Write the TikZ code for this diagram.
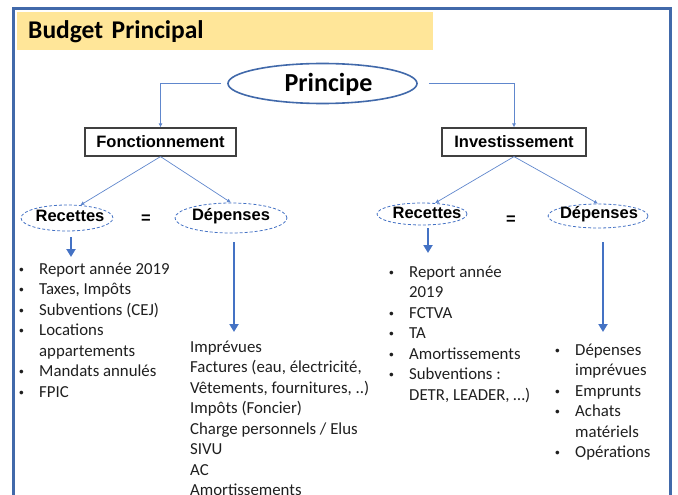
\documentclass[tikz,border=0pt]{standalone}
\usepackage{fontspec}
\setmainfont{Carlito}
\newfontfamily\arialf{Liberation Sans}
\usetikzlibrary{arrows.meta,shapes.geometric}

\definecolor{frameblue}{RGB}{65,105,170}
\definecolor{lineblue}{RGB}{68,114,196}
\definecolor{titleyellow}{RGB}{255,230,153}

\newcommand\bul{{\arialf\fontsize{13.5}{13.5}\selectfont\textbullet}}

\tikzset{
  boxlabel/.style={draw=black!75, line width=1.2pt, inner sep=0pt, minimum height=28pt,
    font=\arialf\bfseries\fontsize{16.5}{18}\selectfont},
  dashell/.style={ellipse, draw=lineblue, densely dashed, line width=0.8pt, inner sep=0pt},
  elltext/.style={inner sep=0pt, font=\arialf\bfseries\fontsize{16.5}{18}\selectfont},
  thinarrow/.style={draw=lineblue!85, line width=0.7pt, -{Latex[length=4pt,width=4pt]}},
  thickarrow/.style={draw=lineblue, line width=2.4pt, -{Triangle[length=8pt,width=9pt]}},
  itemlist/.style={anchor=base west, inner sep=0pt, text=black!88,
    font=\fontsize{16.8}{20.5}\selectfont}
}

\begin{document}
\begin{tikzpicture}[x=1pt,y=-1pt]
			%%%%% START %%%%%
			\useasboundingbox (0,0) rectangle (678,495);
			\clip (0,0) rectangle (678,495);
			
			\draw[frameblue, line width=3pt] (13.5,530) -- (13.5,9) -- (670.5,9) -- (670.5,530);
			
			\node[anchor=base west, fill=titleyellow, text height=27pt, text depth=11pt,
			  inner ysep=0pt, inner xsep=11pt, text width=394pt,
			  font=\bfseries\fontsize{25.5}{28}\selectfont] (title) at (17,39) {Budget Principal};
			
			% principe
			\node[ellipse, draw=frameblue, line width=1.6pt, minimum width=189pt, minimum height=40pt] (pr) at (322.5,83.5) {};
			\node[anchor=base, inner sep=0pt, font=\bfseries\fontsize{26}{30}\selectfont] (prt) at (328.5,92) {Principe};
			
			\node[boxlabel, minimum width=151pt] (fonc) at (160.5,142) {Fonctionnement};
			\node[boxlabel, minimum width=144pt] (inv) at (514,142) {Investissement};
			
			\draw[thinarrow, shorten <=6pt] (pr.west) -| (fonc.north);
			\draw[thinarrow, shorten <=11pt] (pr.east) -| (inv.north);
			
			% fonctionnement
			\node[dashell, minimum width=92pt, minimum height=26pt] (rec1) at (67,218) {};
			\node[elltext] (rec1t) at (70,216) {Recettes};
			\node[dashell, minimum width=112pt, minimum height=30pt] (dep1) at (231,218) {};
			\node[elltext] (dep1t) at (231,216) {Dépenses};
			\node[elltext] (eq1) at (146,219) {=};
			
			\draw[thinarrow] (fonc.south) -- (rec1.44);
			\draw[thinarrow] (fonc.south) -- (dep1.north);
			
			\coordinate (rec1end) at (71,257);
			\coordinate (dep1end) at (234,332);
			\draw[thickarrow, shorten <=6pt] (rec1.south -| rec1end) -- (rec1end);
			\draw[thickarrow, shorten <=9pt] (dep1.south -| dep1end) -- (dep1end);
			
			\node[itemlist] (recl) at (19,274) {\begin{tabular}[t]{@{}p{20pt}@{}l@{}}
			\bul & Report année 2019\\
			\bul & Taxes, Impôts\\
			\bul & Subventions (CEJ)\\
			\bul & Locations\\
			 & appartements\\
			\bul & Mandats annulés\\
			\bul & FPIC
			\end{tabular}};
			
			\node[itemlist] (depl) at (190,352) {\begin{tabular}[t]{@{}l@{}}
			Imprévues\\
			Factures (eau, électricité,\\
			Vêtements, fournitures, ..)\\
			Impôts (Foncier)\\
			Charge personnels / Elus\\
			SIVU\\
			AC\\
			Amortissements
			\end{tabular}};
			
			% investissement
			\node[dashell, minimum width=90pt, minimum height=22pt] (rec2) at (422,214) {};
			\node[elltext] (rec2t) at (427,213) {Recettes};
			\node[dashell, minimum width=100pt, minimum height=24pt] (dep2) at (598,216) {};
			\node[elltext] (dep2t) at (599,214) {Dépenses};
			\node[elltext] (eq2) at (511,220) {=};
			
			\draw[thinarrow] (inv.south) -- (rec2.40);
			\draw[thinarrow] (inv.south) -- (dep2.north);
			
			\coordinate (rec2end) at (428,253);
			\coordinate (dep2end) at (603,332);
			\draw[thickarrow, shorten <=3pt] (rec2.south -| rec2end) -- (rec2end);
			\draw[thickarrow, shorten <=14pt] (dep2.south -| dep2end) -- (dep2end);
			
			\node[itemlist] (recr) at (389,277) {\begin{tabular}[t]{@{}p{20pt}@{}l@{}}
			\bul & Report année\\
			 & 2019\\
			\bul & FCTVA\\
			\bul & TA\\
			\bul & Amortissements\\
			\bul & Subventions :\\
			 & DETR, LEADER, …)
			\end{tabular}};
			
			\node[itemlist] (depr) at (555,355) {\begin{tabular}[t]{@{}p{20pt}@{}l@{}}
			\bul & Dépenses\\
			 & imprévues\\
			\bul & Emprunts\\
			\bul & Achats\\
			 & matériels\\
			\bul & Opérations
			\end{tabular}};
			
			%%%%% END %%%%%
\end{tikzpicture}
\end{document}
